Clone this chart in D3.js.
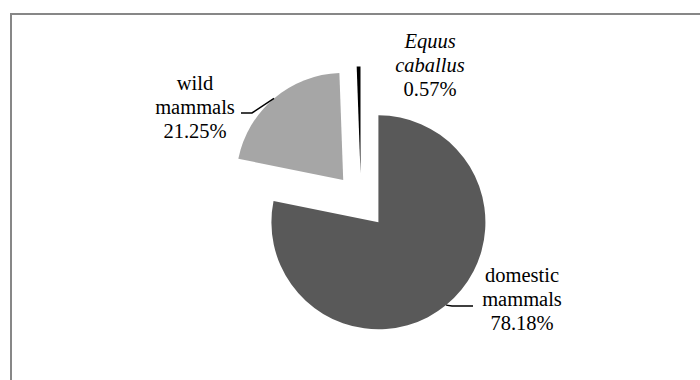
<!DOCTYPE html>
<html><head><meta charset="utf-8">
<script src="https://cdn.jsdelivr.net/npm/d3@7"></script>
</head>
<body style="margin:0">
<svg id="chart" width="700" height="380" style="display:block"></svg>
<script>
// Data
const categories = ["domestic mammals", "wild mammals", "Equus caballus"];
const labelLines = [["domestic", "mammals"], ["wild", "mammals"], ["Equus", "caballus"]];
const italicLabel = [false, false, true];
const values = [78.18, 21.25, 0.57];
const colors = ["#595959", "#a6a6a6", "#000000"];

// Layout
const W = 700, H = 380;
const cx = 361, cy = 201, R = 107, explode = 27.5;
const labelPos = [ {x: 522, y: 282}, {x: 195, y: 90}, {x: 430, y: 48} ];
const lineH = 24;
const leaders = [ {elbow: [452, 306], end: [473, 306]}, {elbow: [252, 113], end: [241, 113]}, null ];

const svg = d3.select("#chart");
const labelLayer = svg.append("g").attr("class", "labels");
const pieLayer = svg.append("g").attr("class", "pie");

svg.insert("path", ":first-child").attr("d", `M11,${H+5} V14 H${W+5}`).attr("fill", "none")
  .attr("stroke", "#878787").attr("stroke-width", 2);

const pie = d3.pie().sort(null).value(d => d)(values);
const arc = d3.arc().innerRadius(0).outerRadius(R);

const g = pieLayer.append("g").attr("transform", `translate(${cx},${cy})`);
pie.forEach((p, i) => {
  const mid = (p.startAngle + p.endAngle) / 2;
  const ox = Math.sin(mid) * explode, oy = -Math.cos(mid) * explode;
  g.append("path").attr("d", arc(p)).attr("fill", colors[i])
    .attr("transform", `translate(${ox},${oy})`);
  const L = leaders[i];
  if (L) {
    const ex = cx + ox + Math.sin(mid) * R, ey = cy + oy - Math.cos(mid) * R;
    pieLayer.append("polyline")
      .attr("points", `${ex},${ey} ${L.elbow[0]},${L.elbow[1]} ${L.end[0]},${L.end[1]}`)
      .attr("fill", "none").attr("stroke", "#000").attr("stroke-width", 1.5);
  }
  const lines = labelLines[i].concat([values[i].toFixed(2) + "%"]);
  lines.forEach((s, k) => {
    labelLayer.append("text")
      .attr("x", labelPos[i].x).attr("y", labelPos[i].y + k * lineH)
      .attr("text-anchor", "middle")
      .style("font-family", '"Liberation Serif"')
      .style("font-size", "20.5px")
      .style("font-style", (italicLabel[i] && k < lines.length - 1) ? "italic" : "normal")
      .style("fill", "#000")
      .text(s);
  });
});
</script>
</body></html>
